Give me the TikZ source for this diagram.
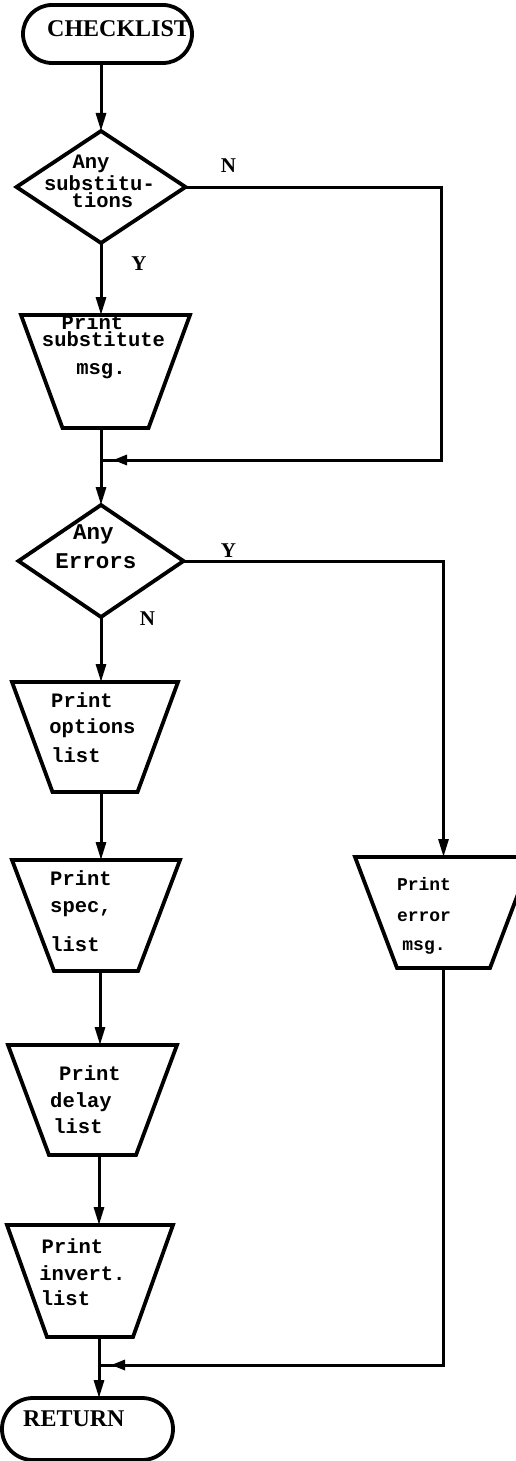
\documentclass[tikz,border=0pt]{standalone}
\usepackage{fontspec}
\setmonofont{Liberation Mono}
\newfontfamily\labelfont{Liberation Serif}
\usetikzlibrary{arrows.meta,decorations.markings}

% inverted trapezoid drawn on the frame of a named node: #1 node, #2 bottom inset
\newcommand{\trapbox}[2]{%
  \draw[outline] (#1.north west) -- (#1.north east)
    -- ([xshift=-#2]#1.south east) -- ([xshift=#2]#1.south west) -- cycle;}
% decision diamond drawn on the frame of a named node
\newcommand{\decision}[1]{%
  \draw[outline] (#1.north) -- (#1.east) -- (#1.south) -- (#1.west) -- cycle;}

\begin{document}
\begin{tikzpicture}[x=1pt,y=-1pt,
  outline/.style={line width=3.8pt},
  conn/.style={line width=3pt},
  arr/.style={-{Triangle[length=18pt,width=10pt]}},
  midarr/.style={postaction={decorate},
    decoration={markings,mark=at position -12pt with {\arrow{Triangle[length=14pt,width=10pt]}}}},
  frame/.style={inner sep=0pt, outer sep=0pt, draw=none},
  term/.style={draw, line width=3.8pt, inner sep=0pt, outer sep=0pt},
  body/.style={font=\ttfamily\bfseries\fontsize{20.5}{20.5}\selectfont, inner sep=0pt, anchor=base},
  bigbody/.style={font=\ttfamily\bfseries\fontsize{22.5}{22.5}\selectfont, inner sep=0pt, anchor=base},
  smallbody/.style={font=\ttfamily\bfseries\fontsize{18}{18}\selectfont, inner sep=0pt, anchor=base},
  termword/.style={font=\labelfont\bfseries\fontsize{24}{24}\selectfont, inner sep=0pt, anchor=base west},
  yn/.style={font=\labelfont\bfseries\fontsize{21}{21}\selectfont, inner sep=0pt, anchor=base},
]
\useasboundingbox (0,0) rectangle (516,1461);
\fill[white] (0,0) rectangle (516,1461);

% ---- shapes ----
\node[term, rounded corners=29pt, minimum width=169pt, minimum height=58pt] (check) at (107.5,34) {};
\node[termword] (checkt) at (47,37) {CHECKLIST};

\node[frame, minimum width=169pt, minimum height=112pt] (d1) at (101,187) {};
\decision{d1}
\node[body] (d1a) at (91,168) {Any};
\node[body] (d1b) at (99.5,190) {substitu-};
\node[body] (d1c) at (102.5,207) {tions};

\node[frame, minimum width=169pt, minimum height=113pt] (p1) at (105.5,371.5) {};
\trapbox{p1}{41.5pt}
\node[body] (p1a) at (92.5,329) {Print};
\node[body] (p1b) at (103.5,346) {substitute};
\node[body] (p1c) at (101,374) {msg.};

\node[frame, minimum width=165pt, minimum height=112pt] (d2) at (101,561) {};
\decision{d2}
\node[bigbody] (d2a) at (93.5,539) {Any};
\node[bigbody] (d2b) at (96,568) {Errors};

\node[frame, minimum width=166pt, minimum height=110pt] (opt) at (95,737) {};
\trapbox{opt}{40.5pt}
\node[body] (opta) at (82,707) {Print};
\node[body] (optb) at (92.5,733) {options};
\node[body] (optc) at (76,762) {list};

\node[frame, minimum width=168pt, minimum height=111pt] (spec) at (96,915.5) {};
\trapbox{spec}{42pt}
\node[body] (speca) at (81,885) {Print};
\node[body] (specb) at (81,912) {spec,};
\node[body] (specc) at (75,951) {list};

\node[frame, minimum width=177pt, minimum height=111pt] (err) at (443.5,912.5) {};
\trapbox{err}{42pt}
\node[smallbody] (erra) at (424,890) {Print};
\node[smallbody] (errb) at (424,921) {error};
\node[smallbody] (errc) at (424,950) {msg.};

\node[frame, minimum width=169pt, minimum height=110pt] (delay) at (92.5,1100) {};
\trapbox{delay}{41pt}
\node[body] (delaya) at (90,1080) {Print};
\node[body] (delayb) at (81,1107) {delay};
\node[body] (delayc) at (78,1133) {list};

\node[frame, minimum width=166pt, minimum height=112pt] (inv) at (90,1281) {};
\trapbox{inv}{40pt}
\node[body] (inva) at (72.5,1253) {Print};
\node[body] (invb) at (82.5,1280) {invert.};
\node[body] (invc) at (65.5,1305) {list};

\node[term, rounded corners=31pt, minimum width=171pt, minimum height=62pt] (ret) at (87.5,1429) {};
\node[termword] (rett) at (23,1426) {RETURN};

% ---- branch labels ----
\node[yn] (n1) at (228.5,172) {N};
\node[yn] (y1) at (139,270) {Y};
\node[yn] (y2) at (228.5,557) {Y};
\node[yn] (n2) at (147.5,625) {N};

% ---- junction points and spine ----
\coordinate (j1) at (101,460);
\coordinate (j2) at (99,1365);
\coordinate (mid) at (100,1000);
\coordinate (rail) at (441,0);

% ---- connectors ----
\draw[conn,arr] (check.south -| d1.north) -- (d1.north);
\draw[conn,arr] (d1.south) -- (p1.north -| d1.south);
\draw[conn,midarr] (d1.east) -| (rail |- j1) -- (j1);
\draw[conn] (p1.south -| j1) -- (j1);
\draw[conn,arr] (j1) -- (d2.north);
\draw[conn,arr] (d2.east) -| (err.north);
\draw[conn,arr] (d2.south) -- (opt.north -| d2.south);
\draw[conn,arr] (opt.south -| j1) -- (spec.north -| j1);
\draw[conn,arr] (spec.south -| mid) -- (delay.north -| mid);
\draw[conn,arr] (delay.south -| j2) -- (inv.north -| j2);
\draw[conn] (inv.south -| j2) -- (j2);
\draw[conn,midarr] (err.south) |- (j2);
\draw[conn,arr] (j2) -- (ret.north -| j2);
\end{tikzpicture}
\end{document}
